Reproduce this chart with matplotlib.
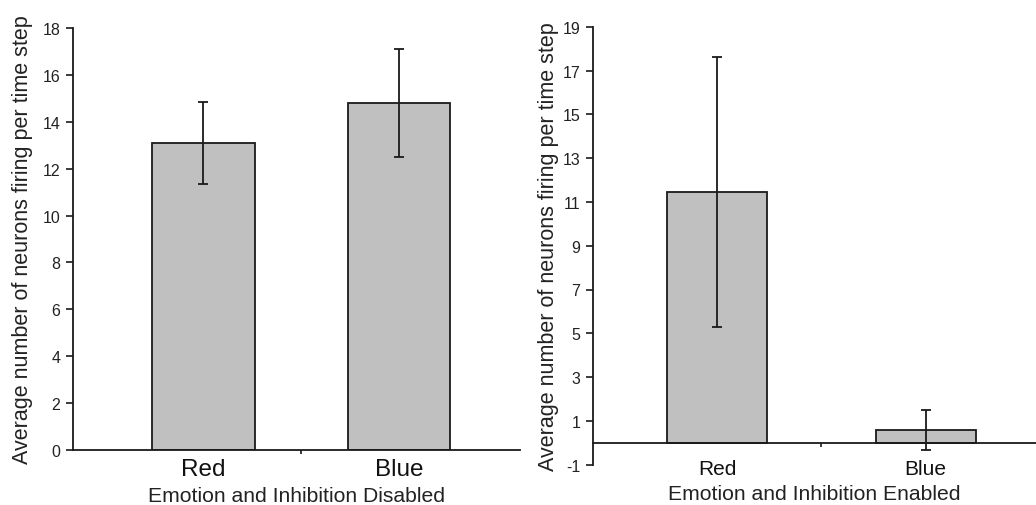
import matplotlib
matplotlib.use("Agg")
import matplotlib.pyplot as plt
from matplotlib.ticker import FixedLocator

plt.rcParams['font.family'] = ['Liberation Sans', 'DejaVu Sans']
plt.rcParams['axes.unicode_minus'] = False

categories = ["Red", "Blue"]
disabled_means = [13.1, 14.8]
disabled_err = [1.75, 2.3]
enabled_means = [11.45, 0.58]
enabled_err = [6.15, 0.9]

ylabel = "Average number of neurons firing per time step"
xlabel_left = "Emotion and Inhibition Disabled"
xlabel_right = "Emotion and Inhibition Enabled"
left_ticks = list(range(0, 19, 2))
right_ticks = list(range(-1, 20, 2))

bar_color = "#c0c0c0"
edge = "#1a1a1a"

fig = plt.figure(figsize=(10.36, 5.06), dpi=100)
axL = fig.add_axes([73/1036, 1-451/506, (520-73)/1036, (451-29)/506])
axR = fig.add_axes([593/1036, 1-465.7/506, (1036-593)/1036, (465.7-27.7)/506])

xs = [0, 1]

def style(ax):
    for s in ["top", "right"]:
        ax.spines[s].set_visible(False)
    for s in ["left", "bottom"]:
        ax.spines[s].set_color(edge)
        ax.spines[s].set_linewidth(1.3)
    ax.tick_params(axis="y", direction="out", length=5, width=1.2, color=edge,
                   labelsize=11.5, pad=4, labelcolor="#222222")

# Left panel
axL.bar(xs, disabled_means, width=0.525, color=bar_color, edgecolor=edge, linewidth=1.3)
axL.errorbar(xs, disabled_means, yerr=disabled_err, fmt="none", ecolor=edge,
             elinewidth=1.3, capsize=3.5, capthick=1.3)
axL.set_xlim(-0.667, 1.62)
axL.set_ylim(0, 18)
axL.set_yticks(left_ticks)
style(axL)
axL.set_xticks(xs)
axL.set_xticklabels(categories, fontsize=17.5)
axL.tick_params(axis="x", which="major", length=0, pad=6)
axL.xaxis.set_minor_locator(FixedLocator([0.5]))
axL.tick_params(axis="x", which="minor", length=3, width=1.2, color=edge, direction="out")
axL.set_xlabel(xlabel_left, fontsize=15.2, labelpad=4, color="#222222")
axL.set_ylabel(ylabel, fontsize=15.5, labelpad=7, color="#222222")

# Right panel
axR.bar(xs, enabled_means, width=0.48, color=bar_color, edgecolor=edge, linewidth=1.3)
axR.errorbar(xs, enabled_means, yerr=enabled_err, fmt="none", ecolor=edge,
             elinewidth=1.3, capsize=3.5, capthick=1.3)
axR.set_xlim(-0.596, 1.53)
axR.set_ylim(-1, 19)
axR.set_yticks(right_ticks)
style(axR)
axR.spines["bottom"].set_position(("data", 0))
axR.set_xticks(xs)
axR.set_xticklabels(categories, fontsize=15)
axR.tick_params(axis="x", which="major", length=0, pad=12)
axR.xaxis.set_minor_locator(FixedLocator([0.5]))
axR.tick_params(axis="x", which="minor", length=3, width=1.2, color=edge, direction="out")
axR.set_xlabel(xlabel_right, fontsize=15.2, labelpad=4, color="#222222")
axR.set_ylabel(ylabel, fontsize=15.5, labelpad=3, color="#222222")

for ax in (axL, axR):
    for t in ax.get_xticklabels():
        t.set_color("#111111")

fig.savefig("out.png", dpi=100)
